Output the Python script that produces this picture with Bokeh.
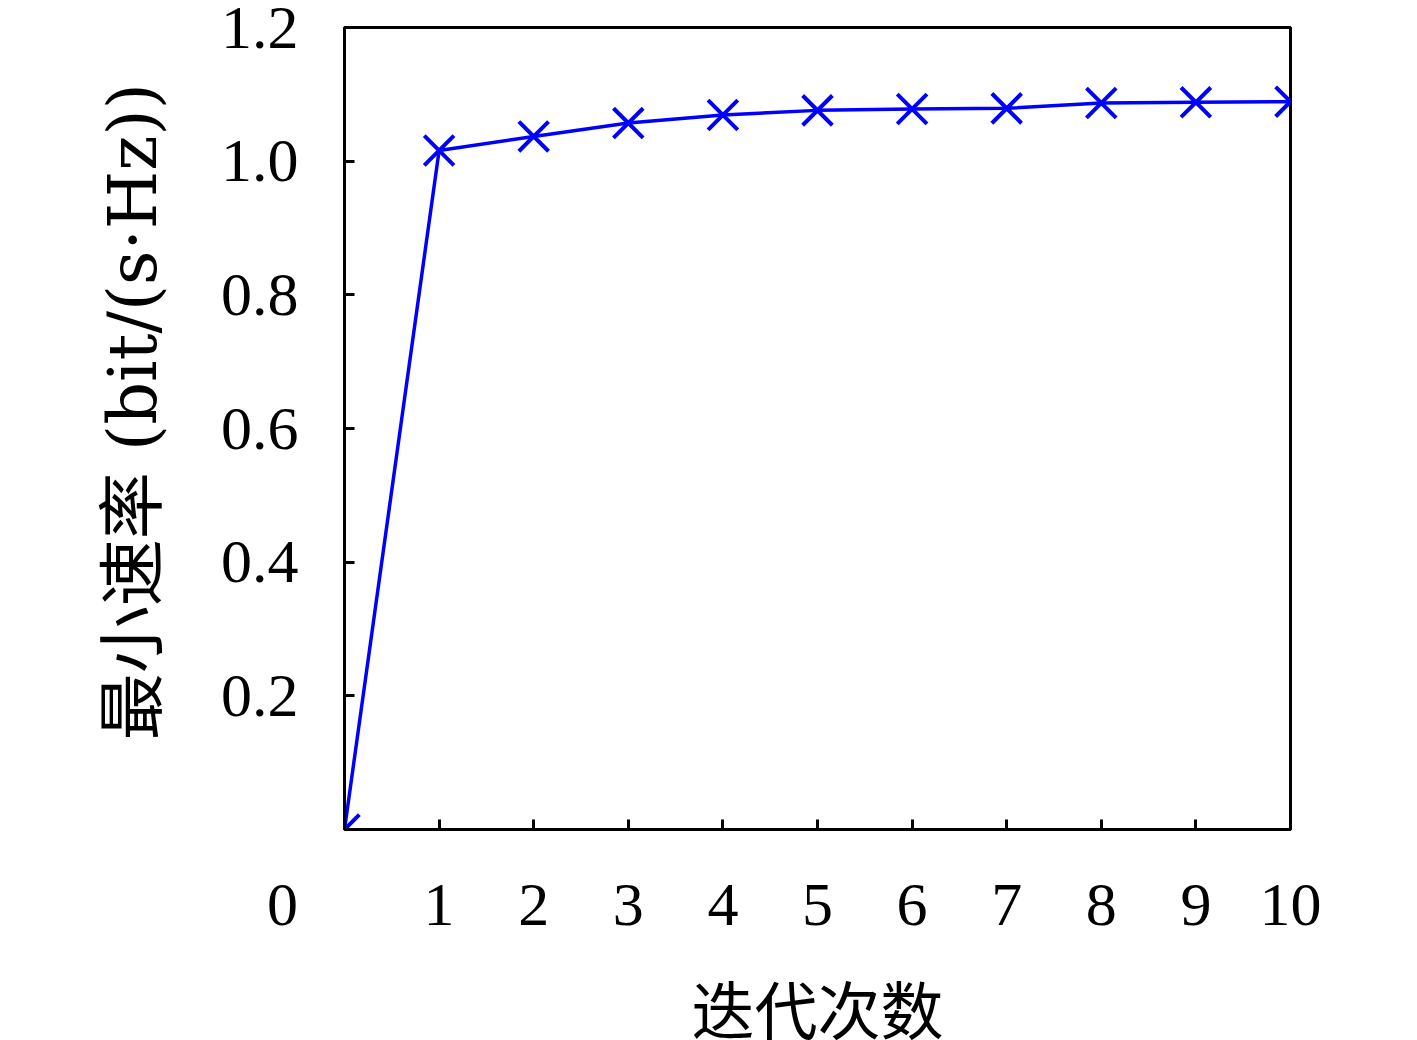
from bokeh.plotting import figure
from bokeh.models import Range1d, FixedTicker
from bokeh.embed import file_html
from bokeh.resources import INLINE

iterations = [0, 1, 2, 3, 4, 5, 6, 7, 8, 9, 10]
min_rate = [0.0, 1.016, 1.037, 1.057, 1.069, 1.076, 1.078, 1.079, 1.087, 1.088, 1.089]
x_ticks = [0, 1, 2, 3, 4, 5, 6, 7, 8, 9, 10]
# the origin label "0" sits left of the corner; em spaces push it there
x_tick_labels = {0: "0\u2003\u2003"}
y_ticks = [0.2, 0.4, 0.6, 0.8, 1.0, 1.2]
y_tick_labels = {0.2: "0.2", 0.4: "0.4", 0.6: "0.6", 0.8: "0.8", 1.0: "1.0", 1.2: "1.2"}

SERIF = "'Liberation Serif'"
YLAB = "'DejaVu Serif', 'Noto Sans CJK SC'"

p = figure(frame_width=946, frame_height=802, output_backend="svg", toolbar_location=None,
           x_range=Range1d(0, 10), y_range=Range1d(0, 1.2),
           min_border_left=344, min_border_top=27, min_border_right=100, min_border_bottom=211)

p.background_fill_color = "white"
p.border_fill_color = "white"
p.outline_line_color = "black"
p.outline_line_width = 3
p.xgrid.visible = False
p.ygrid.visible = False

for ax in (p.xaxis[0], p.yaxis[0]):
    ax.axis_line_color = "black"
    ax.axis_line_width = 3
    ax.major_tick_line_width = 3
    ax.major_tick_in = 10
    ax.major_tick_out = 0
    ax.minor_tick_line_color = None
    ax.major_label_text_font = SERIF
    ax.major_label_text_font_size = "62px"
    ax.major_label_text_color = "black"
    ax.axis_label_text_font_style = "normal"
    ax.axis_label_text_color = "black"

p.xaxis.ticker = FixedTicker(ticks=x_ticks)
p.xaxis.major_label_overrides = x_tick_labels
p.yaxis.ticker = FixedTicker(ticks=y_ticks)
p.yaxis.major_label_overrides = y_tick_labels
p.xaxis.major_label_standoff = 40
p.yaxis.major_label_standoff = 46

p.xaxis.axis_label = "迭代次数"
p.xaxis.axis_label_text_font = "'Noto Sans CJK SC'"
p.xaxis.axis_label_text_font_size = "63px"
p.xaxis.axis_label_standoff = 20

p.yaxis.axis_label = "\u2002最小速率 (bit/(s·Hz))"
p.yaxis.axis_label_text_font = YLAB
p.yaxis.axis_label_text_font_size = "67px"
p.yaxis.axis_label_standoff = 46

p.line(iterations, min_rate, line_color="#0000ff", line_width=3.5)
p.scatter(iterations, min_rate, marker="x", size=42, line_color="#0000ff", line_width=4)

open("out.html", "w").write(file_html(p, INLINE))
